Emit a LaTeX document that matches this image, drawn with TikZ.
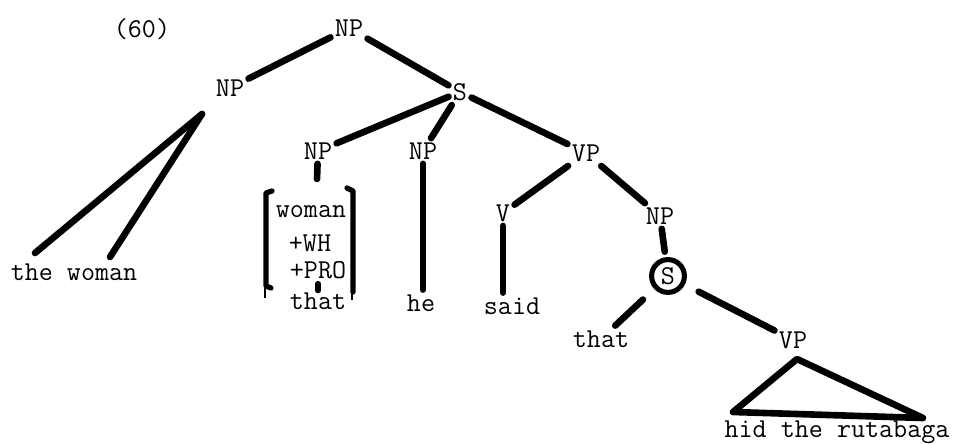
\documentclass[tikz,border=0pt]{standalone}
\usetikzlibrary{positioning}

\begin{document}
\begin{tikzpicture}[x=0.025cm, y=-0.025cm, font=\ttfamily\fontsize{19.4}{22}\selectfont,
  branch/.style={line width=4.7pt, line cap=round, line join=round},
  brack/.style={line width=3.8pt, line cap=round, line join=round},
  cat/.style={inner sep=3pt}]
  \useasboundingbox (0,0) rectangle (957,444);

  % Kategorie
  \node (ex) at (142,29) {(60)};
  \node[cat] (np0) at (349,28) {NP};
  \node[cat] (np1) at (230,88) {NP};
  \node[cat] (s0) at (460,92) {S};
  \node[cat] (np2) at (318,151) {NP};
  \node[cat] (np3) at (423,151) {NP};
  \node[cat] (vp0) at (586,153) {VP};
  \node[cat] (v0) at (503,213) {V};
  \node[cat] (np4) at (660,216) {NP};
  \node[draw, circle, line width=3.6pt, minimum size=0.82cm, inner sep=0pt] (s1) at (668,276) {S};
  \node[cat] (vp1) at (793,340) {VP};

  % Slova
  \node (thewoman) at (74,272) {the woman};
  \node (woman) at (311,212) {woman};
  \node (wh) at (310,243) {+WH};
  \node (pro) at (318,270) {+PRO};
  \node (that1) at (318,301) {that};
  \node (he) at (421,303) {he};
  \node (said) at (512,306) {said};
  \node (that2) at (601,339) {that};
  \node (hid) at (837,432) {hid the rutabaga};

  % Vetve
  \draw[branch] (np0) -- (np1);
  \draw[branch] (np0) -- (s0);
  \draw[branch] (s0) -- (np2);
  \draw[branch] (s0) -- (np3);
  \draw[branch] (s0) -- (vp0);
  \draw[branch] (np3) -- (np3 |- he.north);
  \draw[branch] (vp0) -- (v0);
  \draw[branch] (vp0) -- (np4);
  \draw[branch] (v0) -- (v0 |- said.north);
  \draw[branch, shorten >=4pt] (np4) -- (s1);
  \draw[branch, shorten <=11pt] (s1) -- (that2);
  \draw[branch, shorten <=11pt] (s1) -- (vp1);

  % the woman
  \coordinate (fork) at (202,114);
  \coordinate (tw1) at (35,253);
  \coordinate (tw2) at (110,257);
  \draw[branch] (fork) -- (tw1);
  \draw[branch] (fork) -- (tw2);

  % Matice
  \coordinate (brtop) at (317,179);
  \draw[branch] (np2) -- (brtop);
  \draw[brack] (272,191) -- (266,193) -- (266,286) -- (271,288);
  \draw[line width=1.6pt] (265,286) -- (265,298);
  \draw[brack] (347,188) -- (353,191) -- (353,292);
  \draw[line width=1.6pt] (352,292) -- (352,300);
  \draw[brack] (pro.south -| that1) -- ++(0,7);

  % Trojuhelnik
  \coordinate (tapex) at (797,359);
  \coordinate (tleft) at (733,412);
  \coordinate (tright) at (923,418);
  \draw[branch] (tapex) -- (tleft) -- (tright) -- cycle;
\end{tikzpicture}
\end{document}
